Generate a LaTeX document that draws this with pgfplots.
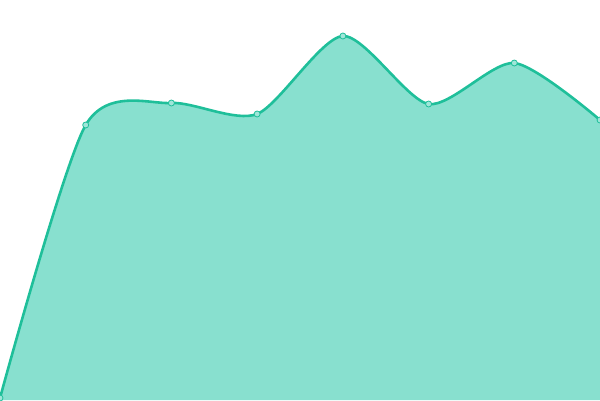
\documentclass[border=0pt]{standalone}
\usepackage{pgfplots}
\pgfplotsset{compat=1.18}
\definecolor{linec}{HTML}{1FBF9A}
\definecolor{fillc}{HTML}{88E0CF}
\begin{document}
\begin{tikzpicture}
\begin{axis}[
  scale only axis, width=600bp, height=400bp,
  xmin=0, xmax=600, ymin=0, ymax=400,
  hide axis, clip marker paths=true,
]
\addplot[draw=none, fill=fillc, smooth, tension=0.45] coordinates {
(0,2) (85.7,275) (171.4,297) (257.1,286) (342.9,364) (428.6,296) (514.3,337) (600,280)
} \closedcycle;
\addplot[linec, line width=2.6bp, smooth, tension=0.45, mark=*, mark size=3bp,
  mark options={fill=fillc!80!white, draw=linec, line width=0.8bp}] coordinates {
(0,2) (85.7,275) (171.4,297) (257.1,286) (342.9,364) (428.6,296) (514.3,337) (600,280)
};
\coordinate (ll) at (rel axis cs:0,0);
\coordinate (ur) at (rel axis cs:1,1);
\end{axis}
\pgfresetboundingbox
\useasboundingbox (ll) rectangle (ur);
\end{tikzpicture}
\end{document}
